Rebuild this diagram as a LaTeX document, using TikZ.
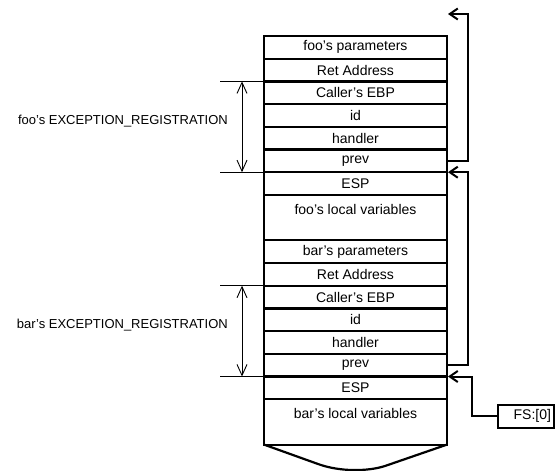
\documentclass[tikz,border=0pt]{standalone}
\usepackage{fontspec}
\setmainfont{Liberation Sans}
\usetikzlibrary{arrows.meta,positioning,calc}
\tikzset{
 slot/.style={draw, line width=2.2pt, minimum width=183pt, minimum height=22.7pt, inner sep=0pt, outer sep=0pt, font=\fontsize{14}{16}\selectfont},
 bigslot/.style={slot, minimum height=45.4pt, text height=10pt, text depth=17pt},
 ptr/.style={-{Straight Barb[length=8pt,width=11pt]}, line width=2pt},
 dimarrow/.style={{Straight Barb[length=11pt,width=10pt]}-{Straight Barb[length=11pt,width=10pt]}, line width=0.9pt},
 tick/.style={line width=0.8pt},
 lbl/.style={font=\fontsize{13}{15}\selectfont, inner sep=0pt},
 fsbox/.style={draw, line width=2pt, minimum width=56pt, minimum height=23pt, text width=50pt, align=right, inner xsep=3pt, font=\fontsize{14}{16}\selectfont}
}
\begin{document}
\begin{tikzpicture}[x=1pt,y=-1pt]
\useasboundingbox (0,0) rectangle (555,471);

% foo's frame
\node[slot, anchor=north] (fpar) at (355.5,36) {foo's parameters};
\node[slot, below=0pt of fpar] (fret) {Ret Address};
\node[slot, below=0pt of fret] (febp) {Caller's EBP};
\node[slot, below=0pt of febp] (fid) {id};
\node[slot, below=0pt of fid] (fhdl) {handler};
\node[slot, below=0pt of fhdl] (fprev) {prev};
\node[slot, below=0pt of fprev] (fesp) {ESP};
\node[bigslot, below=0pt of fesp] (flocal) {foo's local variables};

% bar's frame
\node[slot, below=0pt of flocal] (bpar) {bar's parameters};
\node[slot, below=0pt of bpar] (bret) {Ret Address};
\node[slot, below=0pt of bret] (bebp) {Caller's EBP};
\node[slot, below=0pt of bebp] (bid) {id};
\node[slot, below=0pt of bid] (bhdl) {handler};
\node[slot, below=0pt of bhdl] (bprev) {prev};
\node[slot, below=0pt of bprev] (besp) {ESP};
\node[bigslot, below=0pt of besp] (blocal) {bar's local variables};

% stack goes on below
\draw[line width=2.2pt] (blocal.south west) -- (318,464) .. controls (340,472) and (368,471.5) .. (385,466) -- (blocal.south east);

% EXCEPTION_REGISTRATION spans
\draw[tick] (febp.north west) -- +(-44,0);
\draw[tick] (fprev.south west) -- +(-44,0);
\draw[dimarrow] ($(febp.north west)+(-22,0)$) -- ($(fprev.south west)+(-22,0)$);
\node[lbl, anchor=east] (freg) at (228,121) {foo's EXCEPTION\_REGISTRATION};

\draw[tick] (bebp.north west) -- +(-44,0);
\draw[tick] (bprev.south west) -- +(-44,0);
\draw[dimarrow] ($(bebp.north west)+(-22,0)$) -- ($(bprev.south west)+(-22,0)$);
\node[lbl, anchor=east] (breg) at (228,325) {bar's EXCEPTION\_REGISTRATION};

% prev chain
\coordinate (older) at (448,14);
\draw[ptr] (fprev.east) -- ++(21,0) |- (older);
\draw[ptr] (bprev.east) -- ++(21,0) |- ([xshift=1pt]fesp.north east);

\node[fsbox] (fs) at (526,416) {FS:[0]};
\draw[ptr] (fs.west) -- ++(-25,0) |- ([xshift=1pt]besp.north east);
\end{tikzpicture}
\end{document}
